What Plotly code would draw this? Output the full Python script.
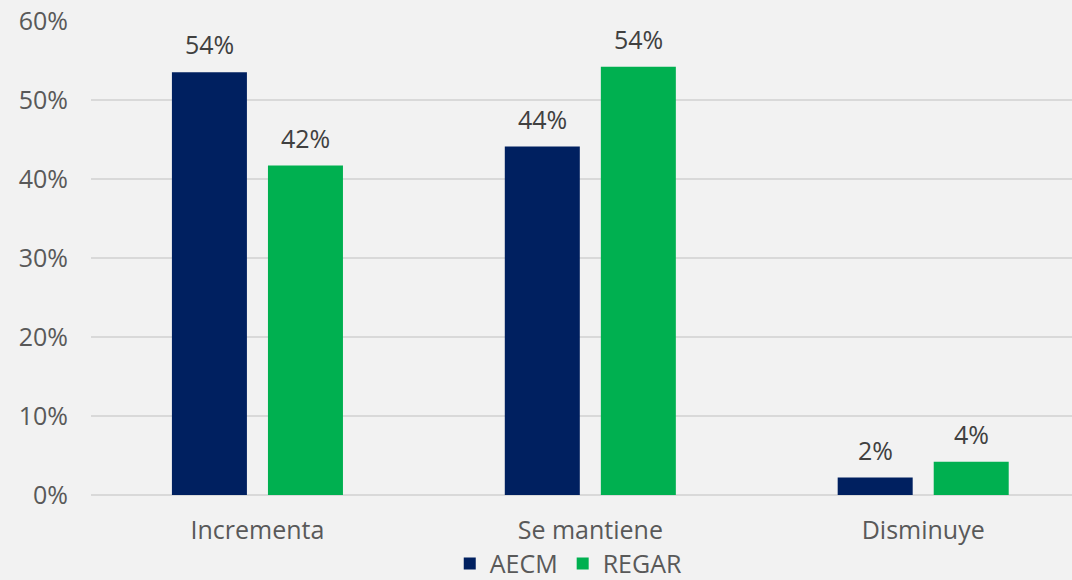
import plotly.graph_objects as go

categories = ["Incrementa", "Se mantiene", "Disminuye"]
aecm = [53.5, 44.1, 2.2]
regar = [41.7, 54.2, 4.2]
aecm_labels = ["54%", "44%", "2%"]
regar_labels = ["42%", "54%", "4%"]
y_ticks = [0, 10, 20, 30, 40, 50, 60]
y_tick_labels = ["0%", "10%", "20%", "30%", "40%", "50%", "60%"]

NAVY = "#002060"
GREEN = "#00B050"
FONT = "Open Sans"

fig = go.Figure()
fig.add_trace(go.Bar(name="AECM", x=categories, y=aecm, marker=dict(color=NAVY, line=dict(width=0))))
fig.add_trace(go.Bar(name="REGAR", x=categories, y=regar, marker=dict(color=GREEN, line=dict(width=0))))

annotations = []
for cat, v, t in zip(categories, aecm, aecm_labels):
    annotations.append(dict(x=cat, y=v, text=t, xref="x", yref="y", showarrow=False,
                            yanchor="bottom", xshift=-48, yshift=9,
                            font=dict(family=FONT, size=25, color="#404040")))
for cat, v, t in zip(categories, regar, regar_labels):
    annotations.append(dict(x=cat, y=v, text=t, xref="x", yref="y", showarrow=False,
                            yanchor="bottom", xshift=48, yshift=9,
                            font=dict(family=FONT, size=25, color="#404040")))

fig.update_layout(
    width=1072, height=580,
    paper_bgcolor="#F2F2F2", plot_bgcolor="#F2F2F2",
    margin=dict(l=91, r=0, t=21, b=85, autoexpand=False),
    barmode="group", bargap=0.423, bargroupgap=0.219,
    font=dict(family=FONT, size=25, color="#595959"),
    annotations=annotations,
    showlegend=True,
    legend=dict(orientation="h", x=0.487, xanchor="center",
                yref="container", y=0.028, yanchor="middle",
                font=dict(family=FONT, size=25, color="#595959"),
                bgcolor="rgba(0,0,0,0)", itemwidth=30),
    xaxis=dict(range=[-0.5, 2.447], showgrid=False, zeroline=False, showline=False,
               ticks="", ticklabelstandoff=18, automargin=False,
               tickfont=dict(family=FONT, size=25, color="#595959")),
    yaxis=dict(range=[0, 60], tickvals=y_ticks, ticktext=y_tick_labels,
               showgrid=True, gridcolor="#D9D9D9", gridwidth=1.5,
               zeroline=True, zerolinecolor="#D9D9D9", zerolinewidth=1.5,
               showline=False, ticks="", ticklabelstandoff=22, automargin=False,
               tickfont=dict(family=FONT, size=25, color="#595959")),
)

fig.write_html("out.html", config={"displayModeBar": False},
               post_script="document.body.style.margin='0';document.body.style.padding='0';")
